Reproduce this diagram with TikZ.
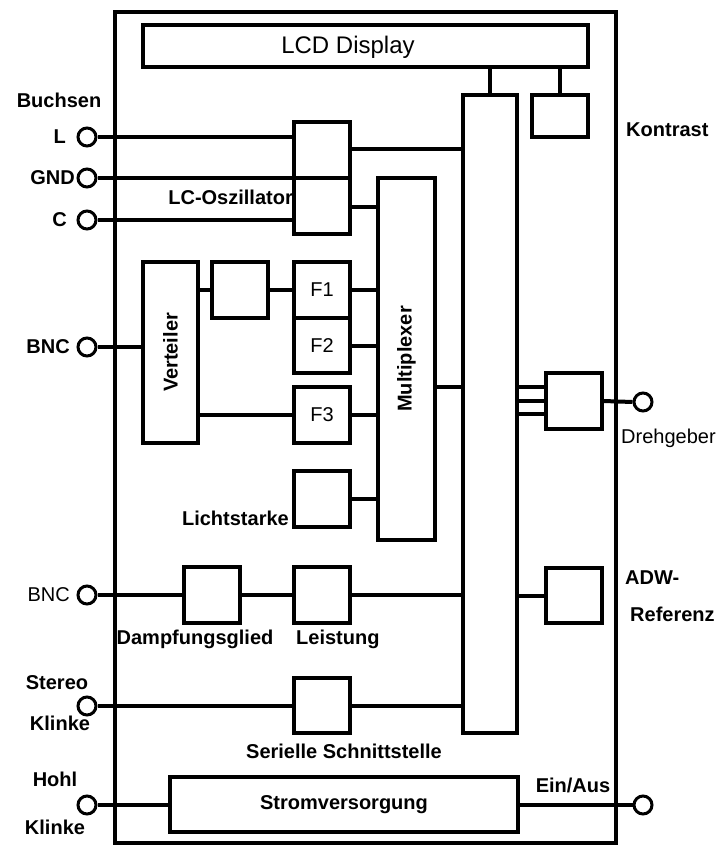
\documentclass[tikz,border=0pt]{standalone}
\usepackage{fontspec}
\setmainfont{Liberation Sans}
\usetikzlibrary{positioning,calc}
\definecolor{msink}{HTML}{000000}
\tikzset{
  msbox/.style={draw=msink, line width=4pt, inner sep=0pt, minimum width=56pt,
                minimum height=56pt, font=\fontsize{20}{24}\selectfont},
  msjack/.style={circle, draw=msink, line width=3pt, minimum size=18pt, inner sep=0pt},
  mswire/.style={draw=msink, line width=4pt},
  mslabel/.style={font=\fontsize{20}{24}\selectfont\bfseries, inner sep=0pt},
  msplain/.style={font=\fontsize{20}{24}\selectfont, inner sep=0pt},
}

\begin{document}
\begin{tikzpicture}[x=1pt,y=-1pt]
  \useasboundingbox (0,0) rectangle (727,845);
  \node[msbox, minimum width=501pt, minimum height=831pt] (case) at (365.5,427.5) {};
  \node[msbox, minimum width=445pt, minimum height=42pt] (lcd) at (365.5,46) {};
  \node[msplain, font=\fontsize{24}{28}\selectfont] at (348,47) {LCD Display};
  \node[msbox, minimum width=54pt, minimum height=638pt] (bus) at (490,414) {};
  \node[msbox, minimum height=42pt] (kon) at (560,116) {};
  \node[msbox, minimum height=112pt] (lc) at (322,178) {};
  \node[msbox, minimum width=57pt, minimum height=362pt] (mux) at (406.5,359) {};
  \node[mslabel, rotate=90] at (mux) {Multiplexer};
  \node[msbox, minimum width=55pt, minimum height=181pt] (vert) at (170.5,352.5) {};
  \node[mslabel, rotate=90] at (vert) {Verteiler};
  \node[msbox] (pre) at (240,290) {};
  \node[msbox] (f1) at (322,290) {F1};
  \node[msbox, minimum height=55pt] (f2) at (322,345.5) {F2};
  \node[msbox] (f3) at (322,415) {F3};
  \node[msbox] (licht) at (322,498.5) {};
  \node[msbox] (dreh) at (573.5,401) {};
  \node[msbox] (daem) at (211.5,595) {};
  \node[msbox] (leist) at (322,595) {};
  \node[msbox, minimum height=55pt] (adw) at (573.5,595.5) {};
  \node[msbox, minimum height=55pt] (seri) at (322,705.5) {};
  \node[msbox, minimum width=348pt, minimum height=55pt,
        font=\fontsize{20}{24}\selectfont\bfseries] (strom) at (344,804.5) {Stromversorgung};

  \foreach \name/\y in {jl/137, jg/178, jc/220, jb/347, jn/595, js/706, jh/805}
    \node[msjack] (\name) at (87,\y) {};
  \node[msjack] (jd) at (643,402) {};
  \node[msjack] (je) at (643,805) {};

  \draw[mswire] (lcd.south -| bus) -- (bus.north);
  \draw[mswire] (lcd.south -| kon) -- (kon.north);
  \draw[mswire] (jl.east) -- (jl -| lc.west);
  \draw[mswire] (jg.east) -- (jg -| lc.east);
  \draw[mswire] (jc.east) -- (jc -| lc.west);
  \coordinate (lcq) at ($(lc.north east)!.25!(lc.south east)$);
  \coordinate (lcr) at ($(lc.north east)!.75!(lc.south east)$);
  \draw[mswire] (lcq) -- (lcq -| bus.west);
  \draw[mswire] (lcr) -- (lcr -| mux.west);
  \draw[mswire] (jb.east) -- (jb -| vert.west);
  \draw[mswire] (vert.east |- pre) -- (pre.west);
  \draw[mswire] (pre.east) -- (f1.west);
  \draw[mswire] (vert.east |- f3) -- (f3.west);
  \foreach \n in {f1,f2,f3,licht}
    \draw[mswire] (\n.east) -- (\n -| mux.west);
  \draw[mswire] ([yshift=-28pt]mux.east) -- ([yshift=-28pt]mux.east -| bus.west);
  \foreach \dy in {14,0,-13}
    \draw[mswire] ([yshift=\dy pt]dreh.west) -- ([yshift=\dy pt]dreh.west -| bus.east);
  \draw[mswire] (dreh.east) -- (jd.west);
  \draw[mswire] (jn.east) -- (daem.west);
  \draw[mswire] (daem) -- (leist);
  \draw[mswire] (leist.east) -- (leist -| bus.west);
  \draw[mswire] (adw -| bus.east) -- (adw.west);
  \draw[mswire] (js.east) -- (js -| seri.west);
  \draw[mswire] (seri.east) -- (seri -| bus.west);
  \draw[mswire] (jh.east) -- (jh -| strom.west);
  \draw[mswire] (strom.east |- je) -- (je.west);

  \node[mslabel] at (59,100) {Buchsen};
  \node[mslabel, anchor=east] at (66,137) {L};
  \node[mslabel, anchor=east] at (75,178) {GND};
  \node[mslabel, anchor=east] at (67,220) {C};
  \node[mslabel, anchor=east] at (293,197) {LC-Oszillator};
  \node[mslabel, anchor=east] at (70,347) {BNC};
  \node[mslabel, anchor=east] at (289,518) {Lichtstarke};
  \node[mslabel, anchor=west] at (626,130) {Kontrast};
  \node[msplain, anchor=west] at (621,438) {Drehgeber};
  \node[msplain, anchor=east] at (70,595) {BNC};
  \node[mslabel] at (195,639) {Dampfungsglied};
  \node[mslabel, anchor=west] at (296,639) {Leistung};
  \node[mslabel, anchor=west] at (625,578) {ADW-};
  \node[mslabel, anchor=west] at (630,614) {Referenz};
  \node[mslabel] at (57,683) {Stereo};
  \node[mslabel] at (60,723) {Klinke};
  \node[mslabel] at (344,751) {Serielle Schnittstelle};
  \node[mslabel] at (55,779) {Hohl};
  \node[mslabel] at (55,827) {Klinke};
  \node[mslabel] at (573,785) {Ein/Aus};
\end{tikzpicture}
\end{document}
